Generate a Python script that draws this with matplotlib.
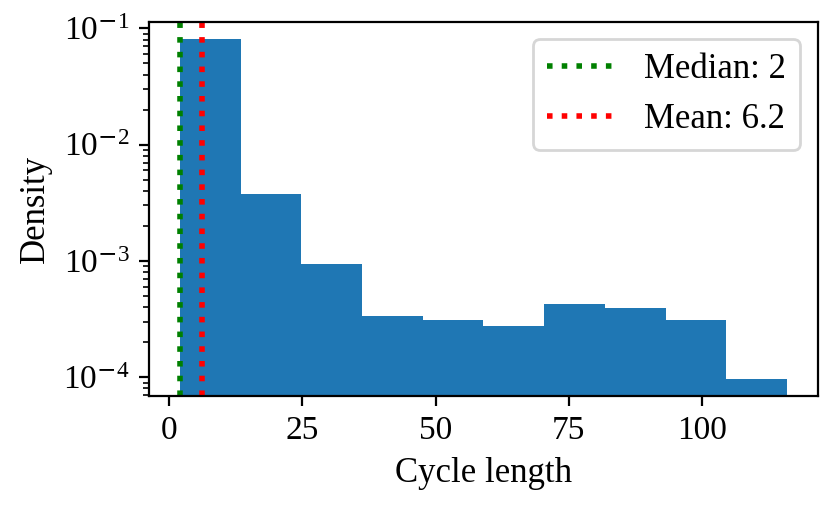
import numpy as np
import matplotlib
matplotlib.use('Agg')
import matplotlib.pyplot as plt
from matplotlib.ticker import FuncFormatter

# histogram (density, log scale)
bin_edges = np.linspace(2.0, 116.0, 11)
density = [0.0815, 0.00377, 0.00094, 0.000335, 0.000308,
           0.000277, 0.000425, 0.000393, 0.000310, 0.0000965]
median = 2
mean = 6.2

plt.rcParams['font.family'] = ['Liberation Serif', 'DejaVu Serif']
plt.rcParams['mathtext.fontset'] = 'custom'
plt.rcParams['mathtext.rm'] = 'Liberation Serif'
plt.rcParams['mathtext.it'] = 'Liberation Serif:italic'
plt.rcParams['mathtext.bf'] = 'Liberation Serif:bold'
plt.rcParams['mathtext.sf'] = 'DejaVu Sans'
plt.rcParams['font.size'] = 12.5
plt.rcParams['xtick.labelsize'] = 12
plt.rcParams['ytick.labelsize'] = 12

fig, ax = plt.subplots(figsize=(4.15, 2.555))
fig.subplots_adjust(left=0.180, right=0.985, bottom=0.225, top=0.9575)

ax.hist(bin_edges[:-1], bins=bin_edges, weights=density, log=True, color='#1f77b4')
ax.axvline(median, color='green', linestyle=':', linewidth=2, label='Median: ' + str(median))
ax.axvline(mean, color='red', linestyle=':', linewidth=2, label='Mean: ' + str(mean))

# wider minus sign in the exponent, like the LaTeX rendered original
def decade(v, pos):
    e = int(round(np.log10(v)))
    if e < 0:
        return r'$10^{\mathsf{-}%d}$' % (-e)
    return r'$10^{%d}$' % e

ax.yaxis.set_major_formatter(FuncFormatter(decade))

ax.set_xlabel('Cycle length')
ax.set_ylabel('Density')
ax.set_xticks([0, 25, 50, 75, 100])
ax.legend(loc='upper right')

fig.savefig('out.png', dpi=200)
